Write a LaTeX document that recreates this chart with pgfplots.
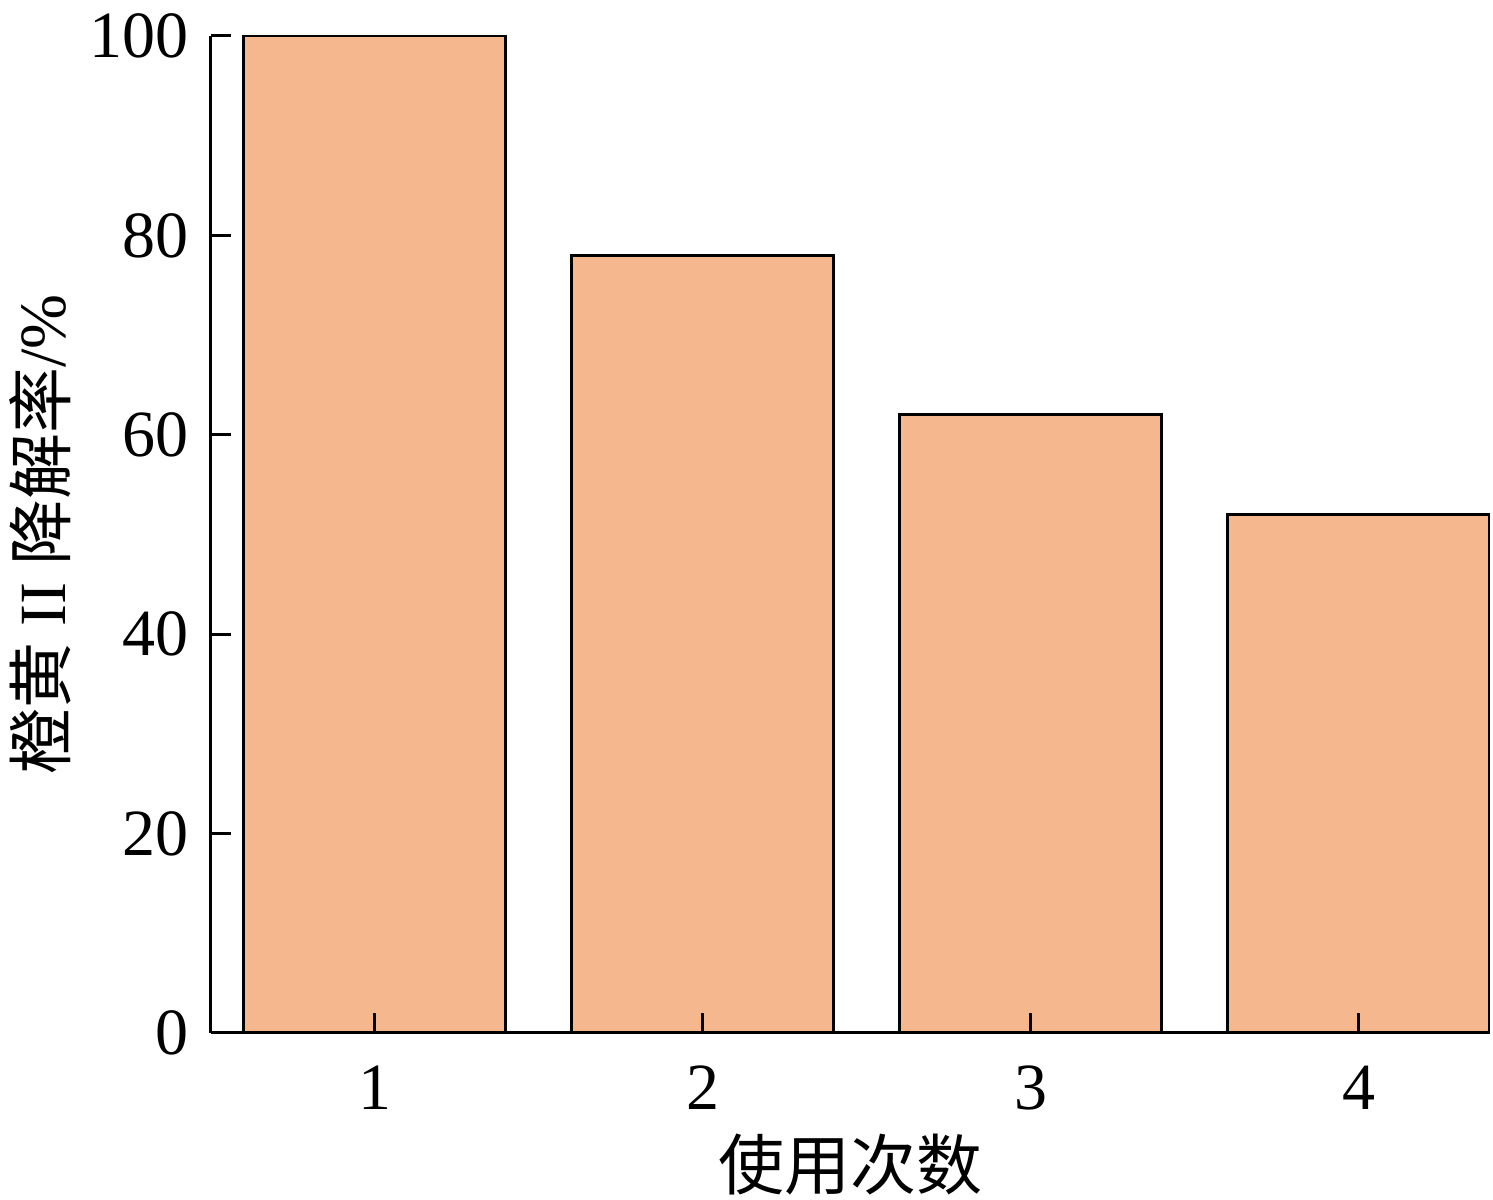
\documentclass[border=0pt]{standalone}
\usepackage{pgfplots}
\pgfplotsset{compat=1.18}
\usepackage{fontspec}
\setmainfont{Liberation Serif}
\newfontfamily\cjk{Noto Sans CJK SC}
\definecolor{barfill}{RGB}{245,183,142}
\begin{document}
\fontsize{16.5}{20}\selectfont
\begin{tikzpicture}
\useasboundingbox (-52.75pt,-41.75pt) rectangle (320.5pt,258.25pt);
\begin{axis}[
  ybar, bar width=65.5pt,
  at={(0,0)}, anchor=origin,
  scale only axis,
  width=319.75pt, height=249.25pt,
  xmin=0.5, xmax=4.4, ymin=0, ymax=100,
  axis x line*=bottom, axis y line*=left,
  axis line style={line width=0.75pt, -},
  axis on top,
  tick align=inside,
  major tick length=5pt,
  tick style={line width=0.75pt, black},
  major x tick style={line width=0.75pt, black},
  xtick={1,2,3,4}, ytick={0,20,40,60,80,100},
  /pgf/number format/assume math mode=true,
  ticklabel style={font=\fontsize{16.5}{20}\selectfont},
  xticklabel style={yshift=-2.5pt},
  xlabel={{\cjk 使用次数}},
  ylabel={{\cjk 橙黄} II {\cjk 降解率}/\%},
  xlabel style={at={(axis description cs:0.5,0)}, anchor=center, yshift=-33pt, font=\fontsize{16.5}{20}\selectfont},
  ylabel style={at={([xshift=-42.75pt]axis description cs:0,0.5)}, anchor=center, rotate=0, font=\fontsize{16.5}{20}\selectfont},
]
\addplot[fill=barfill, draw=black, line width=0.75pt] coordinates {(1,100) (2,78) (3,62) (4,52)};
\end{axis}
\end{tikzpicture}
\end{document}
